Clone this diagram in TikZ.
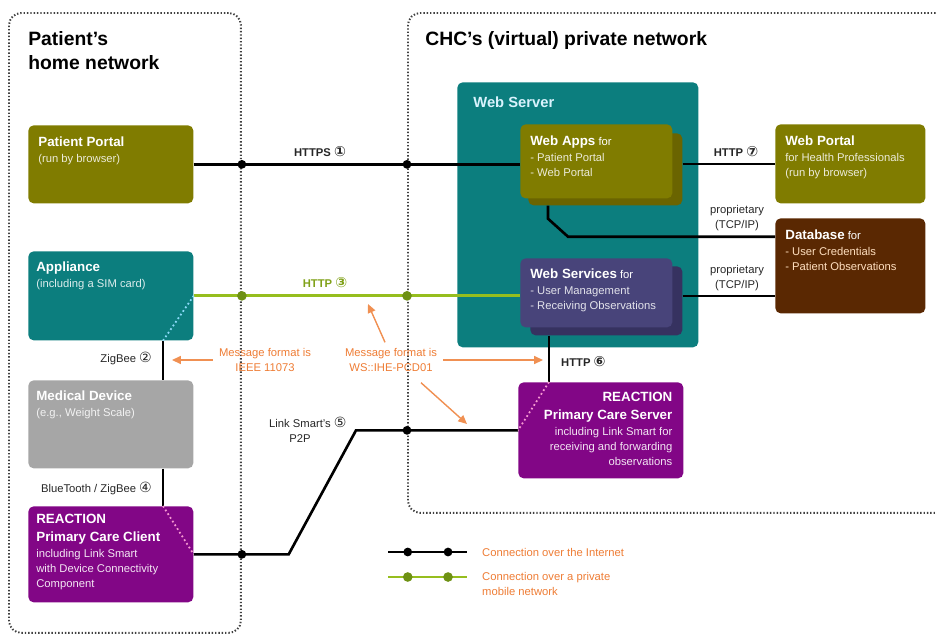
\documentclass[tikz,border=0pt]{standalone}
\usepackage{fontspec}
\setmainfont{Liberation Sans}
\newfontfamily\circfont{DejaVu Sans}
\usetikzlibrary{arrows.meta,positioning,calc}

\definecolor{olivebox}{RGB}{128,124,0}
\definecolor{oliveshade}{RGB}{106,100,0}
\definecolor{tealbox}{RGB}{12,126,126}
\definecolor{graybox}{RGB}{166,166,166}
\definecolor{purplebox}{RGB}{130,6,134}
\definecolor{slatebox}{RGB}{72,68,122}
\definecolor{slateshade}{RGB}{54,50,96}
\definecolor{brownbox}{RGB}{90,40,2}
\definecolor{notecol}{RGB}{238,124,52}
\definecolor{mobile}{RGB}{150,190,30}
\definecolor{mobiledot}{RGB}{110,145,20}

\newcommand{\cn}[1]{{\circfont\fontsize{8}{8}\selectfont#1}}
\newcommand{\hd}[1]{{\color{white}\fontsize{7.6}{9}\selectfont\bfseries#1}}

\begin{document}
\begin{tikzpicture}[
  x=0.02cm, y=-0.02cm,
  >=Latex,
  every node/.style={font=\fontsize{6.4}{8.4}\selectfont},
  region/.style={draw=black!75, line width=1.1pt, dash pattern=on 0.8pt off 1.1pt,
    rounded corners=7pt, anchor=north west, inner sep=0pt},
  box/.style={rounded corners=3pt, anchor=north west, inner sep=0pt},
  txt/.style={anchor=north west, inner sep=0pt, align=left},
  net/.style={line width=1.5pt, black},
  mob/.style={line width=1.7pt, mobile},
  hub/.style={circle, fill=black, inner sep=0pt, minimum size=5pt},
  mhub/.style={circle, fill=mobiledot, inner sep=0pt, minimum size=5.5pt},
  inner/.style={line width=1pt, dash pattern=on 1pt off 1.5pt},
  note/.style={-{Triangle[length=5pt,width=4.5pt]}, line width=0.8pt, notecol!85},
  notetext/.style={text=notecol, align=center},
  proto/.style={text=black!85, align=center},
  protob/.style={proto, font=\fontsize{6.4}{8.4}\selectfont\bfseries},
]
  \useasboundingbox (0,0) rectangle (936,636);

  % Network regions
  \node[region, minimum width=4.64cm, minimum height=12.4cm] (home) at (8,12) {};
  \node[region, minimum width=11.2cm, minimum height=10cm] (chc) at (407,12) {};
  \node[txt, font=\fontsize{11}{14}\selectfont\bfseries] (hometitle) at (28,31)
    {Patient's\\home network};
  \node[txt, font=\fontsize{11}{14}\selectfont\bfseries] (chctitle) at (425,31)
    {CHC's (virtual) private network};

  % Patient side
  \node[box, fill=olivebox, minimum width=3.3cm, minimum height=1.56cm] (pp) at (28,125) {};
  \node[txt, text=white!85!olivebox, below right=0.22cm and 0.2cm of pp.north west] (pptxt)
    {\hd{Patient Portal}\\[1pt](run by browser)};
  \node[box, fill=tealbox, minimum width=3.3cm, minimum height=1.78cm] (app) at (28,251) {};
  \node[txt, text=white!85!tealbox, below right=0.2cm and 0.16cm of app.north west] (apptxt)
    {\hd{Appliance}\\[1pt](including a SIM card)};
  \node[box, fill=graybox, minimum width=3.3cm, minimum height=1.76cm] (med) at (28,380) {};
  \node[txt, text=white!85!graybox, below right=0.2cm and 0.16cm of med.north west] (medtxt)
    {\hd{Medical Device}\\[1pt](e.g., Weight Scale)};
  \node[box, fill=purplebox, minimum width=3.3cm, minimum height=1.92cm] (client) at (28,506) {};
  \node[txt, text=white!90!purplebox, below right=0.16cm and 0.16cm of client.north west] (clienttxt)
    {\hd{REACTION}\\[1.5pt]\hd{Primary Care Client}\\[1pt]including Link Smart\\with Device Connectivity\\Component};

  % CHC side
  \node[box, fill=tealbox, minimum width=4.82cm, minimum height=5.3cm] (websrv) at (457,82) {};
  \node[txt, text=cyan!15, font=\fontsize{8.4}{10}\selectfont\bfseries,
    below right=0.28cm and 0.32cm of websrv.north west] (websrvtxt) {Web Server};
  \node[box, fill=oliveshade, minimum width=3.08cm, minimum height=1.44cm] (wabk) at (528,133) {};
  \node[box, fill=olivebox, minimum width=3.04cm, minimum height=1.48cm] (wa) at (520,124) {};
  \node[txt, text=white!85!olivebox, below right=0.22cm and 0.2cm of wa.north west] (watxt)
    {\hd{Web Apps} {\color{white}for}\\[1pt]- Patient Portal\\- Web Portal};
  \node[box, fill=slateshade, minimum width=3.04cm, minimum height=1.38cm] (wsvbk) at (530,266) {};
  \node[box, fill=slatebox, minimum width=3.04cm, minimum height=1.38cm] (wsv) at (520,258) {};
  \node[txt, text=white!85!slatebox, below right=0.2cm and 0.2cm of wsv.north west] (wsvtxt)
    {\hd{Web Services} {\color{white}for}\\[1pt]- User Management\\- Receiving Observations};
  \node[box, fill=olivebox, minimum width=3.0cm, minimum height=1.58cm] (wp) at (775,124) {};
  \node[txt, text=white!85!olivebox, below right=0.22cm and 0.2cm of wp.north west] (wptxt)
    {\hd{Web Portal}\\[1pt]for Health Professionals\\(run by browser)};
  \node[box, fill=brownbox, minimum width=3.0cm, minimum height=1.9cm] (db) at (775,218) {};
  \node[txt, text=orange!25, below right=0.22cm and 0.2cm of db.north west] (dbtxt)
    {\hd{Database} {\color{white}for}\\[1pt]- User Credentials\\- Patient Observations};
  \node[box, fill=purplebox, minimum width=3.3cm, minimum height=1.92cm] (srv) at (518,382) {};
  \node[txt, anchor=north east, align=right, text=white!90!purplebox,
    below left=0.2cm and 0.22cm of srv.north east] (srvtxt)
    {\hd{REACTION}\\[1.5pt]\hd{Primary Care Server}\\[1pt]including Link Smart for\\receiving and forwarding\\observations};

  % Connections
  \coordinate (zx) at (163,0);
  \coordinate (hx) at (549,0);
  \draw[net] (pp.east) -- (pp.east -| wa.west);
  \draw[net] (wabk.east |- wp.west) -- (wp.west);
  \draw[net] ($(wabk.south west)+(20,0)$) -- ++(0,13) -- ++(20,18) coordinate (dbbend)
    -- (dbbend -| db.west);
  \draw[net] (wsvbk.east |- app.east) -- (app.east -| db.west);
  \draw[mob] (app.east) -- (app.east -| wsv.west);
  \draw[net] (app.south -| zx) -- (med.north -| zx);
  \draw[net] (med.south -| zx) -- (client.north -| zx);
  \draw[net] (wsvbk.south -| hx) -- (srv.north -| hx);
  \draw[net] (client.east) -- ++(95,0) coordinate (p2pknee)
    -- ($(srv.west)+(-162,0)$) -- (srv.west);

  % Inner links
  \draw[inner, cyan!45] (app.south -| zx) -- (app.east);
  \draw[inner, magenta!40] (client.north -| zx) -- (client.east);
  \draw[inner, magenta!40] (srv.north -| hx) -- (srv.west);

  % Crossing points
  \node[hub] (x1) at (pp.east -| home.east) {};
  \node[hub] (x2) at (pp.east -| chc.west) {};
  \node[mhub] (x3) at (app.east -| home.east) {};
  \node[mhub] (x4) at (app.east -| chc.west) {};
  \node[hub] (x5) at (client.east -| home.east) {};
  \node[hub] (x6) at (srv.west -| chc.west) {};

  % Protocol labels
  \node[protob] (https) at (320,152) {HTTPS \cn{①}};
  \node[protob] (http7) at (736,152) {HTTP \cn{⑦}};
  \node[protob, text=mobile!85!black] (http3) at (325,283) {HTTP \cn{③}};
  \node[proto] (prop1) at (737,218) {proprietary\\(TCP/IP)};
  \node[proto] (prop2) at (737,278) {proprietary\\(TCP/IP)};
  \node[proto, anchor=east] (zigbee) at (158,358) {ZigBee \cn{②}};
  \node[proto, anchor=east] (bt) at (158,488) {BlueTooth / ZigBee \cn{④}};
  \node[protob, anchor=west] (http6) at (555,362) {HTTP \cn{⑥}};
  \node[proto] (p2p) at (300,430) {Link Smart's\rlap{ \cn{⑤}}\\P2P};

  % Message format notes
  \node[notetext] (ieee) at (265,360) {Message format is\\IEEE 11073};
  \node[notetext] (wsfmt) at (391,360) {Message format is\\WS::IHE-PCD01};
  \coordinate (upend) at (368,304);
  \coordinate (dnend) at (467,424);
  \draw[note] (ieee.west) -- ($(ieee.west -| zx)+(9,0)$);
  \draw[note] ($(wsfmt.north)+(-6,0)$) -- (upend);
  \draw[note] (wsfmt.east) -- ($(wsfmt.east -| hx)+(-6,0)$);
  \draw[note] ($(wsfmt.south)+(30,5)$) -- (dnend);

  % Legend
  \coordinate (lgnetA) at (388,552);
  \coordinate (lgnetB) at (467,552);
  \coordinate (lgmobA) at (388,577);
  \coordinate (lgmobB) at (467,577);
  \draw[net, line width=1.1pt] (lgnetA) -- (lgnetB);
  \draw[mob, line width=1.2pt] (lgmobA) -- (lgmobB);
  \node[hub] (lg1) at ($(lgnetA)!0.25!(lgnetB)$) {};
  \node[hub] (lg2) at ($(lgnetA)!0.76!(lgnetB)$) {};
  \node[mhub] (lg3) at ($(lgmobA)!0.25!(lgmobB)$) {};
  \node[mhub] (lg4) at ($(lgmobA)!0.76!(lgmobB)$) {};
  \node[anchor=west, text=notecol] (lgnet) at (476,552) {Connection over the Internet};
  \node[anchor=west, text=notecol, align=left] (lgmob) at (476,584)
    {Connection over a private\\mobile network};
\end{tikzpicture}
\end{document}
